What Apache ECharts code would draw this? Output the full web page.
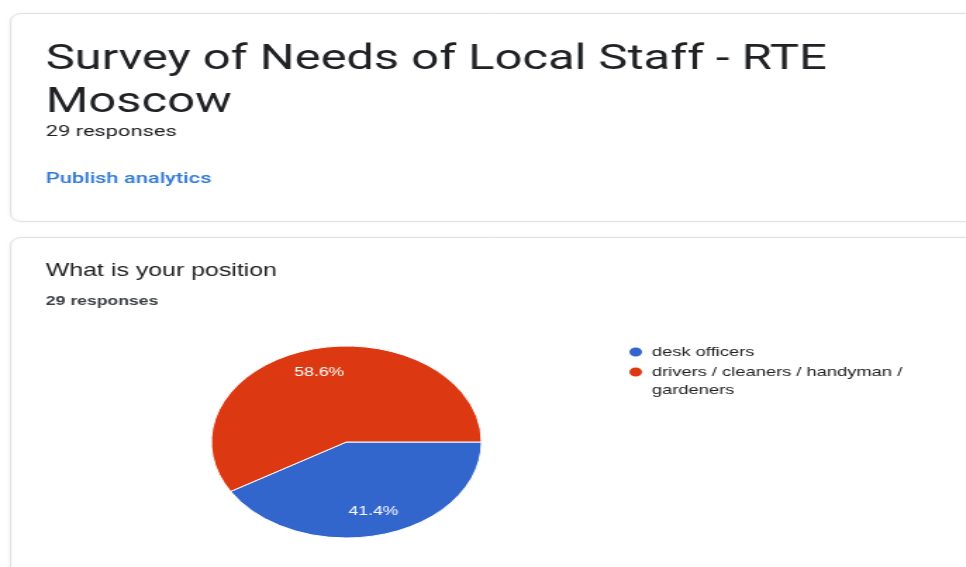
<!DOCTYPE html>
<html>
<head>
<meta charset="utf-8">
<script src="https://cdn.jsdelivr.net/npm/echarts@6/dist/echarts.min.js"></script>
<style>
  html, body { margin: 0; padding: 0; background: #ffffff; overflow: hidden; }
  #main { width: 686px; height: 567px; transform: scaleX(1.408); transform-origin: 0 0; }
</style>
</head>
<body>
<div id="main"></div>
<script>
// Page texts
const formTitleLines = ['Survey of Needs of Local Staff - RTE', 'Moscow'];
const formResponses = '29 responses';
const publishLink = 'Publish analytics';
const questionTitle = 'What is your position';
const questionResponses = '29 responses';

// Answers to the question
const categories = ['desk officers', 'drivers / cleaners / handyman / gardeners'];
const counts = [12, 17];
const sliceColors = ['#3366cc', '#dc3912'];

const pieCenter = [246, 442];
const pieRadius = 96;
const labelRadiusRatio = 0.75;

const chart = echarts.init(document.getElementById('main'));

const total = counts.reduce((a, b) => a + b, 0);

function midAngle(idx) {
  let acc = 0;
  for (let i = 0; i < idx; i++) acc += counts[i];
  return (acc + counts[idx] / 2) / total * Math.PI * 2;
}

// oval legend marker, stretched to itemWidth x itemHeight
const markerIcon = 'path://M0 5a5 5 0 1 0 10 0a5 5 0 1 0 -10 0z';

const legendText = {
  fontFamily: '"Liberation Sans", Arial, sans-serif',
  fontSize: 13,
  color: '#222222',
  lineHeight: 18
};

const legendBase = {
  orient: 'vertical',
  left: 445,
  padding: 0,
  icon: markerIcon,
  itemWidth: 13, itemHeight: 11,
  selectedMode: false
};

chart.setOption({
  animation: false,
  backgroundColor: '#ffffff',
  graphic: [
    {
      type: 'rect', z: 0,
      shape: { x: 7.5, y: 13.5, width: 720, height: 208, r: 8 },
      style: { fill: '#ffffff', stroke: '#e2e2e2', lineWidth: 1, shadowBlur: 3, shadowColor: 'rgba(0,0,0,0.06)' }
    },
    {
      type: 'rect', z: 0,
      shape: { x: 7.5, y: 237.5, width: 720, height: 420, r: 8 },
      style: { fill: '#ffffff', stroke: '#e2e2e2', lineWidth: 1, shadowBlur: 3, shadowColor: 'rgba(0,0,0,0.06)' }
    },
    {
      type: 'text', z: 5, x: 32.5, y: 60.5,
      style: { text: formTitleLines[0], font: '400 34.7px Roboto, sans-serif', fill: '#202124', verticalAlign: 'middle' }
    },
    {
      type: 'text', z: 5, x: 32.5, y: 103.5,
      style: { text: formTitleLines[1], font: '400 34.7px Roboto, sans-serif', fill: '#202124', verticalAlign: 'middle' }
    },
    {
      type: 'text', z: 5, x: 32.5, y: 132,
      style: { text: formResponses, font: '400 15.5px Roboto, sans-serif', fill: '#202124', verticalAlign: 'middle' }
    },
    {
      type: 'text', z: 5, x: 32.5, y: 179,
      style: { text: publishLink, font: '500 15.5px Roboto, sans-serif', fill: '#2f78d6', verticalAlign: 'middle' }
    },
    {
      type: 'text', z: 5, x: 32.5, y: 271,
      style: { text: questionTitle, font: '400 17.7px "Liberation Sans", Arial, sans-serif', fill: '#202124', verticalAlign: 'middle' }
    },
    {
      type: 'text', z: 5, x: 32.5, y: 302,
      style: { text: questionResponses, font: 'bold 12.5px "Liberation Sans", Arial, sans-serif', fill: '#3c4043', verticalAlign: 'middle' }
    }
  ],
  legend: [
    Object.assign({}, legendBase, {
      data: [categories[0]],
      top: 343,
      textStyle: legendText
    }),
    Object.assign({}, legendBase, {
      // leading blank line keeps the first text line level with the marker
      data: [categories[1]],
      formatter: function (name) { return '\n' + name; },
      top: 345,
      textStyle: Object.assign({}, legendText, { width: 200, overflow: 'break' })
    })
  ],
  series: [{
    type: 'pie',
    center: pieCenter,
    radius: pieRadius,
    startAngle: 0,
    clockwise: true,
    percentPrecision: 1,
    silent: true,
    emphasis: { disabled: true },
    itemStyle: { borderColor: '#ffffff', borderWidth: 1 },
    label: {
      show: true,
      position: 'inside',
      formatter: '{d}%',
      color: '#ffffff',
      fontFamily: '"Liberation Sans", Arial, sans-serif',
      fontSize: 12.5
    },
    labelLine: { show: false },
    labelLayout: function (p) {
      const a = midAngle(p.dataIndex);
      return {
        x: pieCenter[0] + labelRadiusRatio * pieRadius * Math.cos(a),
        y: pieCenter[1] + labelRadiusRatio * pieRadius * Math.sin(a),
        align: 'center',
        verticalAlign: 'middle'
      };
    },
    data: categories.map((name, i) => ({ name: name, value: counts[i], itemStyle: { color: sliceColors[i] } }))
  }]
});
</script>
</body>
</html>
